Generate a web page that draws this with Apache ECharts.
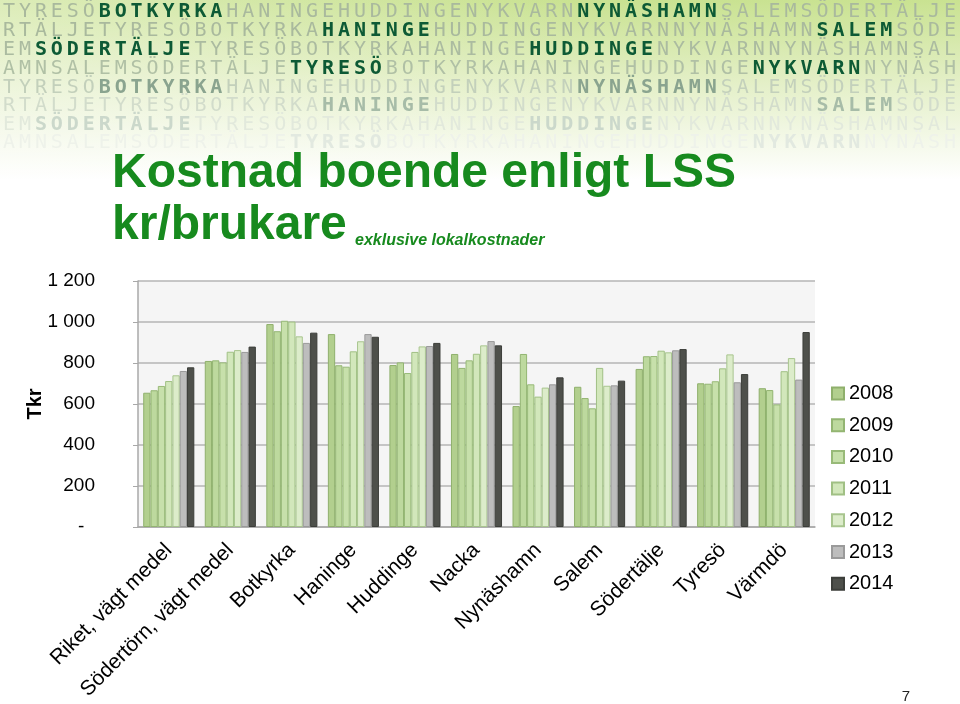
<!DOCTYPE html>
<html>
<head>
<meta charset="utf-8">
<script src="https://cdn.jsdelivr.net/npm/echarts@6/dist/echarts.min.js"></script>
<style>html,body{margin:0;padding:0;background:#fff;}#c{width:960px;height:704px;}</style>
</head>
<body>
<div id="c"></div>
<script>
const categories = ['Riket, vägt medel','Södertörn, vägt medel','Botkyrka','Haninge','Huddinge','Nacka','Nynäshamn','Salem','Södertälje','Tyresö','Värmdö'];
const years = ['2008','2009','2010','2011','2012','2013','2014'];
const v2008 = [655,810,990,941,790,844,590,684,771,701,677];
const v2009 = [667,813,955,789,803,776,844,629,833,699,668];
const v2010 = [688,803,1006,782,751,813,696,579,834,711,598];
const v2011 = [712,855,1002,857,854,845,636,776,860,774,760];
const v2012 = [740,863,930,906,881,886,680,689,852,842,824];
const v2013 = [761,854,898,941,883,907,696,691,862,706,719];
const v2014 = [779,880,948,928,898,886,730,714,868,746,951];
const yTicks = [0,200,400,600,800,1000,1200];
const headerWords = ['TYRESÖ','BOTKYRKA','HANINGE','HUDDINGE','NYKVARN','NYNÄSHAMN','SALEM','SÖDERTÄLJE'];

const seriesValues = [v2008,v2009,v2010,v2011,v2012,v2013,v2014];
const fills = ['#b2cf8e','#bdd99e','#c7e0ab','#d2e7bb','#dcecca','#bdbdbd','#4e504b'];
const borders = ['#8fb06c','#93b572','#98ba78','#a0c084','#a8c58e','#9a9a9a','#3c3e3a'];

// header decoration
const graphics = [];
graphics.push({type:'rect', z:0, shape:{x:0,y:0,width:960,height:180}, style:{fill:{type:'linear',x:0,y:0,x2:0,y2:1,colorStops:[{offset:0,color:'#c9e291'},{offset:0.45,color:'#e3efc6'},{offset:1,color:'#ffffff'}]}}, silent:true});
graphics.push({type:'rect', z:0, shape:{x:0,y:0,width:960,height:180}, style:{fill:{type:'linear',x:0,y:0,x2:1,y2:0,colorStops:[{offset:0,color:'rgba(255,255,255,0.35)'},{offset:0.6,color:'rgba(255,255,255,0)'}]}}, silent:true});
const cyc = [];
headerWords.forEach((w,k)=>{ for (const ch of w) cyc.push({ch:ch,k:k}); });
const N = cyc.length;
const rowY = [12,31,50,69,88,106,125,143];
const bgCol = ['#a9b99d','#a9b99d','#abbba0','#b0c0a5','#c3d0bb','#d2dccb','#e2e9dc','#eef2ea'];
const hiCol = ['#0d5a35','#0d5a35','#0d5a35','#0d5a35','#8aa48f','#a7bca8','#cbd8cb','#e2e9e0'];
for (let r=0;r<8;r++){
  const off = (N - 6*(r%4)) % N;
  for (let i=0;i<N;i++){
    const c = cyc[(off+i)%N];
    const hi = (c.k%4) === ((r+1)%4);
    graphics.push({type:'text', z:1, silent:true, x: 9 + i*15.95, y: rowY[r],
      style:{text:c.ch, fill: hi?hiCol[r]:bgCol[r], font:(hi?'bold ':'')+'20px "DejaVu Sans Mono"', textAlign:'center', textVerticalAlign:'middle'}});
  }
}
graphics.push({type:'text', z:2, left:112, top:150, style:{text:'Kostnad boende enligt LSS', fill:'#178a1e', font:'bold 48px "Liberation Sans", Arial'}});
graphics.push({type:'text', z:2, left:112, top:202, style:{text:'kr/brukare', fill:'#178a1e', font:'bold 48px "Liberation Sans", Arial'}});
graphics.push({type:'text', z:2, left:355, top:233, style:{text:'exklusive lokalkostnader', fill:'#178a1e', font:'italic bold 16px "Liberation Sans", Arial'}});
graphics.push({type:'text', z:2, x:35, y:404, rotation:Math.PI/2, style:{text:'Tkr', fill:'#000', font:'bold 20px "Liberation Sans", Arial', textAlign:'center', textVerticalAlign:'middle'}});
graphics.push({type:'text', z:2, x:906, y:697, style:{text:'7', fill:'#222', font:'15px "Liberation Sans", Arial', textAlign:'center', textVerticalAlign:'middle'}});

const chart = echarts.init(document.getElementById('c'));
chart.setOption({
  animation:false,
  backgroundColor:'#ffffff',
  graphic: graphics,
  grid:{left:138, right:145, top:281, bottom:177, show:true, backgroundColor:'#f5f5f5', borderWidth:0},
  legend:{orient:'vertical', left:826, top:377, itemWidth:12, itemHeight:12, itemGap:8.7, icon:'rect',
    data: years, textStyle:{fontSize:20, color:'#000', fontFamily:'"Liberation Sans", Arial', lineHeight:23}},
  xAxis:{type:'category', data:categories,
    axisLine:{show:true, lineStyle:{color:'#a8a8a8', width:1.5}}, axisTick:{show:false},
    axisLabel:{rotate:45, interval:0, margin:20, fontSize:21, color:'#000', fontFamily:'"Liberation Sans", Arial'}},
  yAxis:{type:'value', min:0, max:1200, interval:200,
    axisLine:{show:true, lineStyle:{color:'#a8a8a8', width:1.5}},
    axisTick:{show:true, length:5, lineStyle:{color:'#a8a8a8'}},
    splitLine:{show:true, lineStyle:{color:'#b5b5b5', width:1.5}},
    axisLabel:{margin:43, fontSize:19, color:'#000', fontFamily:'"Liberation Sans", Arial',
      formatter:function(v){ if (v===0) return '-  '; return v>=1000 ? Math.floor(v/1000)+' '+String(v%1000).padStart(3,'0') : String(v); }}},
  series: years.map((y,i)=>({name:y, type:'bar', data:seriesValues[i], barGap:'0%', barCategoryGap:'17%',
    itemStyle:{color:fills[i], borderColor:borders[i], borderWidth:1}}))
});
</script>
</body>
</html>
